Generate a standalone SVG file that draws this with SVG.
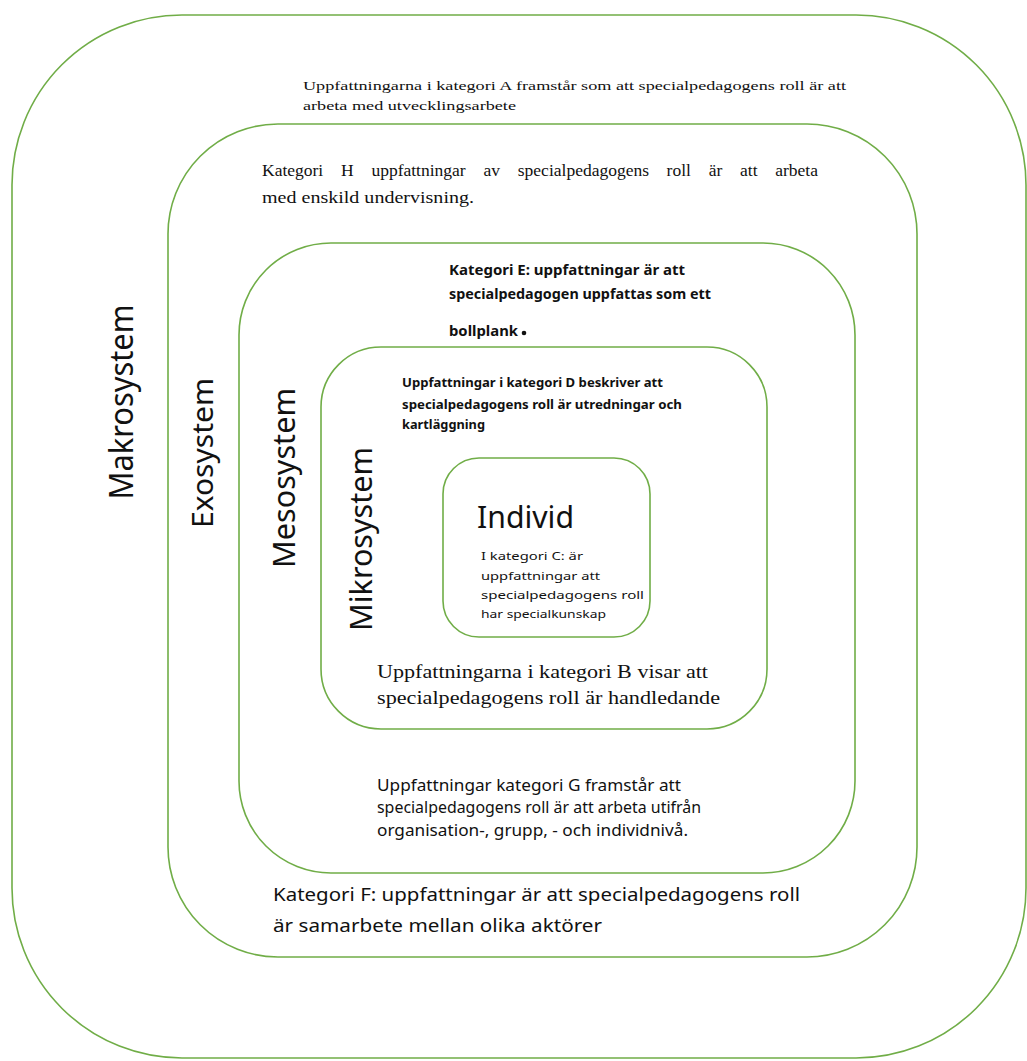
<svg xmlns="http://www.w3.org/2000/svg" width="1027" height="1061" viewBox="0 0 1027 1061">
<style>
.box{fill:none;stroke:#70AD47;stroke-width:1.6}
.serif{font-family:"Liberation Serif","DejaVu Serif",serif;fill:#111}
.sans{font-family:"Noto Sans","Open Sans","Liberation Sans",sans-serif;fill:#111}
.bold{font-weight:bold}
</style>
<rect width="1027" height="1061" fill="#fff"/>
<g id="makrosystem">
<rect class="box" x="12" y="15" width="1014" height="1043" rx="170" ry="170"/>
<text class="sans" font-size="32" transform="translate(133,402) rotate(-90)" x="0" y="0" text-anchor="middle" textLength="195" lengthAdjust="spacingAndGlyphs">Makrosystem</text>
<text class="serif" font-size="13.5" x="303" y="90" textLength="543" lengthAdjust="spacingAndGlyphs">Uppfattningarna i kategori A framstår som att specialpedagogens roll är att</text>
<text class="serif" font-size="13.5" x="303" y="110" textLength="213" lengthAdjust="spacingAndGlyphs">arbeta med utvecklingsarbete</text>
</g>
<g id="exosystem">
<rect class="box" x="168" y="124" width="749" height="833" rx="110" ry="110"/>
<text class="sans" font-size="29" transform="translate(213,453) rotate(-90)" x="0" y="0" text-anchor="middle" textLength="150" lengthAdjust="spacingAndGlyphs">Exosystem</text>
<text class="serif" font-size="17.5" y="176"><tspan x="262">Kategori</tspan><tspan x="341">H</tspan><tspan x="371.4">uppfattningar</tspan><tspan x="483.5">av</tspan><tspan x="517.8">specialpedagogens</tspan><tspan x="666.6">roll</tspan><tspan x="708.7">är</tspan><tspan x="740">att</tspan><tspan x="818" text-anchor="end">arbeta</tspan></text>
<text class="serif" font-size="17" x="262" y="203" textLength="212" lengthAdjust="spacingAndGlyphs">med enskild undervisning.</text>
<text class="sans" font-size="17.5" x="273" y="901" textLength="527" lengthAdjust="spacingAndGlyphs">Kategori F: uppfattningar är att specialpedagogens roll</text>
<text class="sans" font-size="17.5" x="273" y="932" textLength="329" lengthAdjust="spacingAndGlyphs">är samarbete mellan olika aktörer</text>
</g>
<g id="mesosystem">
<rect class="box" x="239" y="243" width="616" height="630" rx="92" ry="92"/>
<text class="sans" font-size="30" transform="translate(295,478) rotate(-90)" x="0" y="0" text-anchor="middle" textLength="180" lengthAdjust="spacingAndGlyphs">Mesosystem</text>
<text class="sans bold" font-size="13.5" x="449" y="275" textLength="236" lengthAdjust="spacingAndGlyphs">Kategori E: uppfattningar är att</text>
<text class="sans bold" font-size="13.5" x="449" y="299" textLength="262" lengthAdjust="spacingAndGlyphs">specialpedagogen uppfattas som ett</text>
<text class="sans bold" font-size="13.5" x="449" y="336" textLength="69" lengthAdjust="spacingAndGlyphs">bollplank</text>
<circle cx="524" cy="333" r="2.3" fill="#111"/>
<text class="sans" font-size="15.5" x="377" y="791" textLength="304" lengthAdjust="spacingAndGlyphs">Uppfattningar kategori G framstår att</text>
<text class="sans" font-size="15.5" x="377" y="813" textLength="324" lengthAdjust="spacingAndGlyphs">specialpedagogens roll är att arbeta utifrån</text>
<text class="sans" font-size="15.5" x="377" y="836" textLength="311" lengthAdjust="spacingAndGlyphs">organisation-, grupp, - och individnivå.</text>
</g>
<g id="mikrosystem">
<rect class="box" x="321" y="347" width="446" height="382" rx="60" ry="60"/>
<text class="sans" font-size="30" transform="translate(372,539) rotate(-90)" x="0" y="0" text-anchor="middle" textLength="184" lengthAdjust="spacingAndGlyphs">Mikrosystem</text>
<text class="sans bold" font-size="12.5" x="402" y="387" textLength="261" lengthAdjust="spacingAndGlyphs">Uppfattningar i kategori D beskriver att</text>
<text class="sans bold" font-size="12.5" x="402" y="409" textLength="280" lengthAdjust="spacingAndGlyphs">specialpedagogens roll är utredningar och</text>
<text class="sans bold" font-size="12.5" x="402" y="429" textLength="83" lengthAdjust="spacingAndGlyphs">kartläggning</text>
<text class="serif" font-size="19.5" x="377" y="678" textLength="331" lengthAdjust="spacingAndGlyphs">Uppfattningarna i kategori B visar att</text>
<text class="serif" font-size="19.5" x="377" y="704" textLength="343" lengthAdjust="spacingAndGlyphs">specialpedagogens roll är handledande</text>
</g>
<g id="individ">
<rect class="box" x="443" y="458" width="207" height="179" rx="36" ry="36"/>
<text class="sans" font-size="31" x="477" y="528" textLength="97" lengthAdjust="spacingAndGlyphs">Individ</text>
<text class="sans" font-size="11.5" x="481" y="560" textLength="102" lengthAdjust="spacingAndGlyphs">I kategori C: är</text>
<text class="sans" font-size="11.5" x="481" y="580" textLength="119" lengthAdjust="spacingAndGlyphs">uppfattningar att</text>
<text class="sans" font-size="11.5" x="481" y="599" textLength="163" lengthAdjust="spacingAndGlyphs">specialpedagogens roll</text>
<text class="sans" font-size="11.5" x="481" y="618" textLength="125" lengthAdjust="spacingAndGlyphs">har specialkunskap</text>
</g>
<g id="connectors"></g>
</svg>
